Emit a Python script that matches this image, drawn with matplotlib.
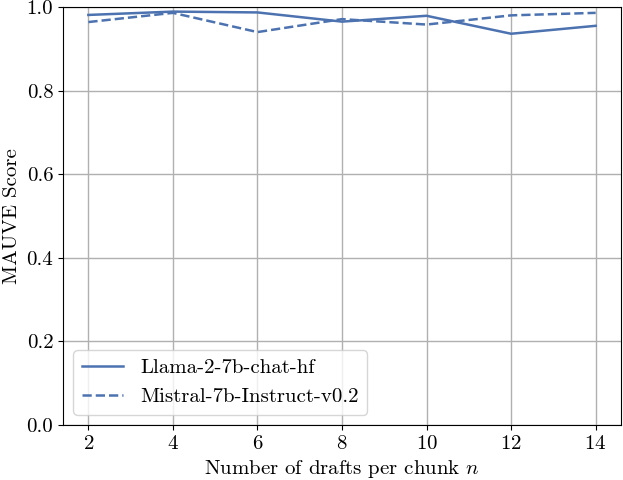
import matplotlib
matplotlib.use("Agg")
import matplotlib.pyplot as plt

plt.rcParams['font.family'] = 'serif'
plt.rcParams['font.serif'] = ['cmr10']
plt.rcParams['mathtext.fontset'] = 'cm'
plt.rcParams['axes.formatter.use_mathtext'] = True
plt.rcParams['axes.unicode_minus'] = False

n_drafts = [2, 4, 6, 8, 10, 12, 14]
llama = [0.981, 0.989, 0.987, 0.965, 0.979, 0.936, 0.955]
mistral = [0.964, 0.986, 0.940, 0.971, 0.958, 0.980, 0.986]

color = '#4C72B0'
fig = plt.figure(figsize=(6.23, 4.8), dpi=100)
ax = fig.add_axes([63/623, 55/480, 558/623, 418/480])
ax.plot(n_drafts, llama, color=color, lw=1.8, label='Llama-2-7b-chat-hf')
ax.plot(n_drafts, mistral, color=color, lw=1.8, ls='--', label='Mistral-7b-Instruct-v0.2')
ax.set_ylim(0, 1.0)
ax.set_xticks(n_drafts)
ax.set_yticks([0, 0.2, 0.4, 0.6, 0.8, 1.0])
ax.set_yticklabels(['0.0', '0.2', '0.4', '0.6', '0.8', '1.0'])
ax.grid(True, color='#b0b0b0', lw=1.0)
ax.set_axisbelow(True)
ax.tick_params(labelsize=15)
ax.set_xlabel('Number of drafts per chunk $n$', fontsize=15)
ax.set_ylabel('MAUVE Score', fontsize=15)
ax.legend(loc='lower left', fontsize=15)
fig.savefig('out.png', dpi=100)
